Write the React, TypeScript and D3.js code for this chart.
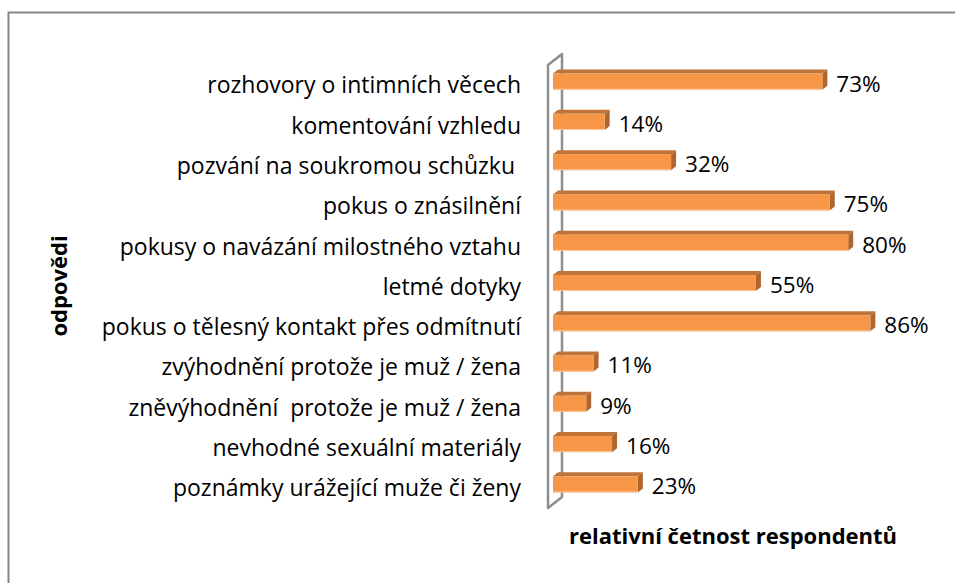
import { useEffect, useRef } from 'react';
import * as d3 from 'd3';

const categories = [
  'rozhovory o intimních věcech',
  'komentování vzhledu',
  'pozvání na soukromou schůzku ',
  'pokus o znásilnění',
  'pokusy o navázání milostného vztahu',
  'letmé dotyky',
  'pokus o tělesný kontakt přes odmítnutí',
  'zvýhodnění protože je muž / žena',
  'zněvýhodnění  protože je muž / žena',
  'nevhodné sexuální materiály',
  'poznámky urážející muže či ženy',
];
const values = [73, 14, 32, 75, 80, 55, 86, 11, 9, 16, 23];
const yTitle = 'odpovědi';
const xTitle = 'relativní četnost respondentů';

const W = 955;
const H = 583;
const FONT = "'Open Sans', sans-serif";

export default function App() {
  const svgRef = useRef<SVGSVGElement>(null);

  useEffect(() => {
    if (!svgRef.current) return;
    const svg = d3.select(svgRef.current);
    svg.selectAll('*').remove();

    // chart frame (runs off the right / bottom edge)
    svg.append('rect')
      .attr('x', 8.5).attr('y', 12.5)
      .attr('width', 1000).attr('height', 1000)
      .attr('fill', 'white')
      .attr('stroke', '#878787')
      .attr('stroke-width', 2);

    // 3D wall
    const wallX = 548;
    const wallTop = 65;
    const wallBottom = 508;
    const wdx = 14, wdy = -11;

    const x = d3.scaleLinear().domain([0, 100]).range([553, 553 + 369]);
    const y = d3.scaleBand<string>()
      .domain(categories)
      .range([wallTop, wallBottom])
      .paddingInner(0.6)
      .paddingOuter(0.3);

    svg.append('path')
      .attr('d', `M${wallX},${wallTop} L${wallX},${wallBottom} L${wallX + wdx},${wallBottom + wdy} L${wallX + wdx},${wallTop + wdy} Z`)
      .attr('fill', 'none')
      .attr('stroke', '#8e8e8e')
      .attr('stroke-width', 2.5)
      .attr('stroke-linejoin', 'round');

    // bars
    const bdx = 5, bdy = -4;
    const bh = y.bandwidth();
    const bars = svg.append('g');
    categories.forEach((c, i) => {
      const x0 = x(0);
      const x1 = x(values[i]);
      const yf = (y(c) as number) - 3.5;
      // top face
      bars.append('path')
        .attr('d', `M${x0},${yf} L${x0 + bdx},${yf + bdy} L${x1 + bdx},${yf + bdy} L${x1},${yf} Z`)
        .attr('fill', '#bf7338');
      // side face
      bars.append('path')
        .attr('d', `M${x1},${yf} L${x1 + bdx},${yf + bdy} L${x1 + bdx},${yf + bdy + bh} L${x1},${yf + bh} Z`)
        .attr('fill', '#b0652f');
      // front face
      bars.append('rect')
        .attr('x', x0).attr('y', yf)
        .attr('width', x1 - x0).attr('height', bh)
        .attr('fill', '#f79646');
      bars.append('line')
        .attr('x1', x0).attr('x2', x1)
        .attr('y1', yf + bh - 0.5).attr('y2', yf + bh - 0.5)
        .attr('stroke', '#fbc9a0')
        .attr('stroke-width', 1);
      // value label
      bars.append('text')
        .attr('x', x1 + bdx + 9)
        .attr('y', yf + bh / 2 + 2)
        .attr('dy', '0.35em')
        .attr('font-family', FONT)
        .attr('font-size', 22.5)
        .attr('fill', '#000')
        .text(`${values[i]}%`);
    });

    // category labels
    svg.append('g')
      .selectAll('text')
      .data(categories)
      .enter().append('text')
      .attr('x', 521)
      .attr('y', d => (y(d) as number) + bh / 2)
      .attr('dy', '0.36em')
      .attr('text-anchor', 'end')
      .attr('font-family', FONT)
      .attr('font-size', 23)
      .attr('fill', '#000')
      .style('white-space', 'pre')
      .text(d => d);

    // axis titles
    svg.append('text')
      .attr('transform', 'translate(67,286) rotate(-90)')
      .attr('text-anchor', 'middle')
      .attr('font-family', FONT)
      .attr('font-size', 22)
      .attr('font-weight', 'bold')
      .text(yTitle);

    svg.append('text')
      .attr('x', 733)
      .attr('y', 544)
      .attr('text-anchor', 'middle')
      .attr('font-family', FONT)
      .attr('font-size', 22)
      .attr('font-weight', 'bold')
      .text(xTitle);
  }, []);

  return (
    <svg
      ref={svgRef}
      width={W}
      height={H}
      style={{ position: 'absolute', left: 0, top: 0, background: 'white' }}
    />
  );
}
